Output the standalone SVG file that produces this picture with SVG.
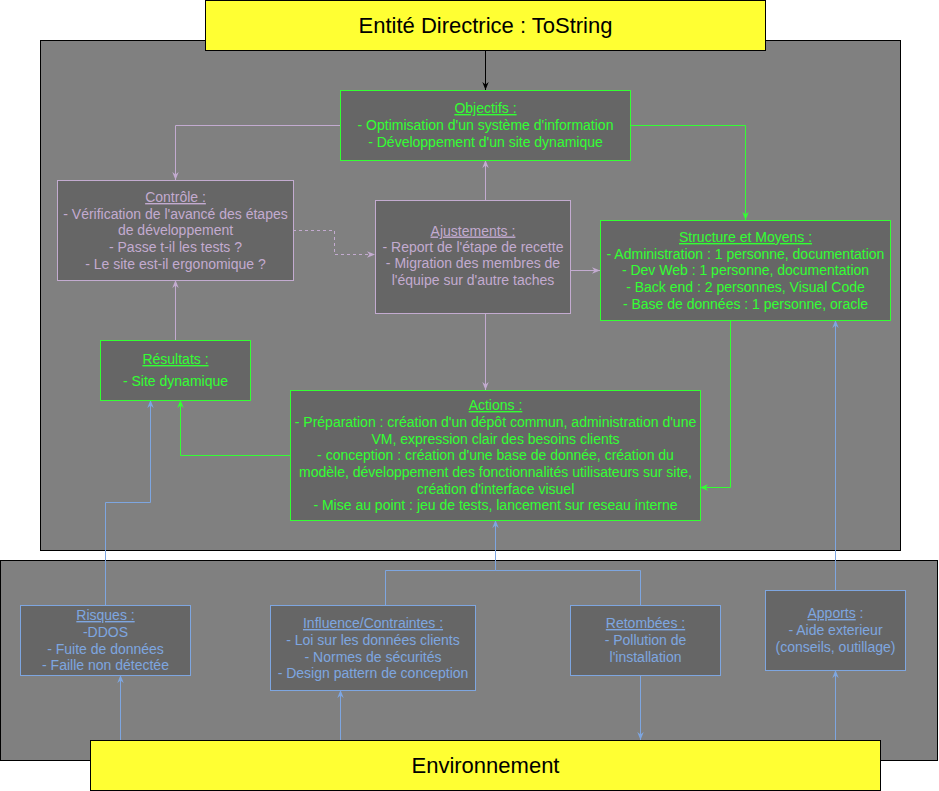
<svg xmlns="http://www.w3.org/2000/svg" width="939" height="791" viewBox="0 0 939 791">
<style>
text{font-family:"Liberation Sans",Arial,sans-serif;font-size:14px;text-anchor:middle}
.panel{fill:#808080;stroke:#000;stroke-width:1}
.yel{fill:#FFFF33;stroke:#000;stroke-width:1}
.big{font-size:22px;fill:#000}
.g{fill:#666666;stroke:#33FF33;stroke-width:1}
.l{fill:#666666;stroke:#C3ABD0;stroke-width:1}
.b{fill:#666666;stroke:#7EA6E0;stroke-width:1}
.tg{fill:#33FF33}
.tl{fill:#C3ABD0}
.tb{fill:#7EA6E0}
.u{text-decoration:underline}
.c{fill:none;stroke-width:1}
.ck{stroke:#000}
.cg{stroke:#33FF33}
.cl{stroke:#C3ABD0}
.cb{stroke:#7EA6E0}
</style>
<defs>
<marker id="ak" viewBox="0 0 10 10" refX="10" refY="5" markerWidth="8" markerHeight="8" orient="auto" markerUnits="userSpaceOnUse"><path d="M0,1 L10,5 L0,9 L3,5 z" fill="#000"/></marker>
<marker id="ag" viewBox="0 0 10 10" refX="10" refY="5" markerWidth="8" markerHeight="8" orient="auto" markerUnits="userSpaceOnUse"><path d="M0,1 L10,5 L0,9 L3,5 z" fill="#33FF33"/></marker>
<marker id="al" viewBox="0 0 10 10" refX="10" refY="5" markerWidth="8" markerHeight="8" orient="auto" markerUnits="userSpaceOnUse"><path d="M0,1 L10,5 L0,9 L3,5 z" fill="#C3ABD0"/></marker>
<marker id="ab" viewBox="0 0 10 10" refX="10" refY="5" markerWidth="8" markerHeight="8" orient="auto" markerUnits="userSpaceOnUse"><path d="M0,1 L10,5 L0,9 L3,5 z" fill="#7EA6E0"/></marker>
</defs>

<rect id="panel-main" class="panel" x="40.5" y="40.5" width="860" height="510"/>
<rect id="panel-env" class="panel" x="0.5" y="560.5" width="937" height="200"/>

<g id="entite">
<rect class="yel" x="205.5" y="0.5" width="560" height="50"/>
<text class="big" x="485.5" y="33">Entité Directrice : ToString</text>
</g>

<g id="connectors">
<path class="c ck" d="M485.5,50 V90" marker-end="url(#ak)"/>
<path class="c cl" d="M340,125.5 H175.5 V180" marker-end="url(#al)"/>
<path class="c cg" d="M630,125.5 H745.5 V220" marker-end="url(#ag)"/>
<path class="c cl" d="M485.5,200 V160" marker-end="url(#al)"/>
<path class="c cl" d="M293,230.5 H334.5 V254.5 H375" stroke-dasharray="3 3" marker-end="url(#al)"/>
<path class="c cl" d="M570,270.5 H600" marker-end="url(#al)"/>
<path class="c cl" d="M485.5,313 V390" marker-end="url(#al)"/>
<path class="c cl" d="M175.5,340 V280" marker-end="url(#al)"/>
<path class="c cg" d="M290,455.5 H180.5 V400" marker-end="url(#ag)"/>
<path class="c cg" d="M730.5,320 V487.5 H700" marker-end="url(#ag)"/>
<path class="c cb" d="M105.5,605 V502.5 H150.5 V400" marker-end="url(#ab)"/>
<path class="c cb" d="M385.5,605 V570.5 H495.5 V520" marker-end="url(#ab)"/>
<path class="c cb" d="M640.5,605 V570.5 H495.5"/>
<path class="c cb" d="M120.5,740 V675" marker-end="url(#ab)"/>
<path class="c cb" d="M340.5,740 V690" marker-end="url(#ab)"/>
<path class="c cb" d="M640.5,675 V740" marker-end="url(#ab)"/>
<path class="c cb" d="M835.5,740 V670" marker-end="url(#ab)"/>
<path class="c cb" d="M835.5,590 V320" marker-end="url(#ab)"/>
</g>

<g id="objectifs">
<rect class="g" x="340.5" y="90.5" width="290" height="70"/>
<text class="tg" x="485.5"><tspan class="u" x="485.5" y="113">Objectifs :</tspan><tspan x="485.5" y="130">- Optimisation d'un système d'information</tspan><tspan x="485.5" y="147">- Développement d'un site dynamique</tspan></text>
</g>

<g id="controle">
<rect class="l" x="57.5" y="180.5" width="236" height="100"/>
<text class="tl" x="175.5"><tspan class="u" x="175.5" y="202">Contrôle :</tspan><tspan x="175.5" y="218.5">- Vérification de l'avancé des étapes</tspan><tspan x="175.5" y="235">de développement</tspan><tspan x="175.5" y="251.5">- Passe t-il les tests ?</tspan><tspan x="175.5" y="268.5">- Le site est-il ergonomique ?</tspan></text>
</g>

<g id="ajustements">
<rect class="l" x="375.5" y="200.5" width="195" height="113"/>
<text class="tl" x="473"><tspan class="u" x="473" y="235.5">Ajustements :</tspan><tspan x="473" y="251.5">- Report de l'étape de recette</tspan><tspan x="473" y="268">- Migration des membres de</tspan><tspan x="473" y="285">l'équipe sur d'autre taches</tspan></text>
</g>

<g id="structure">
<rect class="g" x="600.5" y="220.5" width="290" height="100"/>
<text class="tg" x="745.5"><tspan class="u" x="745.5" y="242">Structure et Moyens :</tspan><tspan x="745.5" y="258.5">- Administration : 1 personne, documentation</tspan><tspan x="745.5" y="275">- Dev Web : 1 personne, documentation</tspan><tspan x="745.5" y="292">- Back end : 2 personnes, Visual Code</tspan><tspan x="745.5" y="308.5">- Base de données : 1 personne, oracle</tspan></text>
</g>

<g id="resultats">
<rect class="g" x="100.5" y="340.5" width="150" height="60"/>
<text class="tg" x="175.5"><tspan class="u" x="175.5" y="364">Résultats :</tspan><tspan x="175.5" y="385.5">- Site dynamique</tspan></text>
</g>

<g id="actions">
<rect class="g" x="290.5" y="390.5" width="410" height="130"/>
<text class="tg" x="495.5"><tspan class="u" x="495.5" y="410">Actions :</tspan><tspan x="495.5" y="427">- Préparation : création d'un dépôt commun, administration d'une</tspan><tspan x="495.5" y="443.5">VM, expression clair des besoins clients</tspan><tspan x="495.5" y="460">- conception : création d'une base de donnée, création du</tspan><tspan x="495.5" y="477">modèle, développement des fonctionnalités utilisateurs sur site,</tspan><tspan x="495.5" y="493.5">création d'interface visuel</tspan><tspan x="495.5" y="510">- Mise au point : jeu de tests, lancement sur reseau interne</tspan></text>
</g>

<g id="risques">
<rect class="b" x="20.5" y="605.5" width="170" height="70"/>
<text class="tb" x="105.5"><tspan class="u" x="105.5" y="620">Risques :</tspan><tspan x="105.5" y="637">-DDOS</tspan><tspan x="105.5" y="653.5">- Fuite de données</tspan><tspan x="105.5" y="670">- Faille non détectée</tspan></text>
</g>

<g id="influence">
<rect class="b" x="270.5" y="605.5" width="205" height="85"/>
<text class="tb" x="373"><tspan class="u" x="373" y="628">Influence/Contraintes :</tspan><tspan x="373" y="645">- Loi sur les données clients</tspan><tspan x="373" y="662">- Normes de sécurités</tspan><tspan x="373" y="678">- Design pattern de conception</tspan></text>
</g>

<g id="retombees">
<rect class="b" x="570.5" y="605.5" width="150" height="70"/>
<text class="tb" x="645.5"><tspan class="u" x="645.5" y="628">Retombées :</tspan><tspan x="645.5" y="645">- Pollution de</tspan><tspan x="645.5" y="662">l'installation</tspan></text>
</g>

<g id="apports">
<rect class="b" x="765.5" y="590.5" width="140" height="80"/>
<text class="tb" x="835.5"><tspan x="835.5" y="618"><tspan class="u">Apports</tspan> :</tspan><tspan x="835.5" y="635">- Aide exterieur</tspan><tspan x="835.5" y="652">(conseils, outillage)</tspan></text>
</g>

<g id="environnement">
<rect class="yel" x="90.5" y="740.5" width="790" height="50"/>
<text class="big" x="485.5" y="773">Environnement</text>
</g>
</svg>
